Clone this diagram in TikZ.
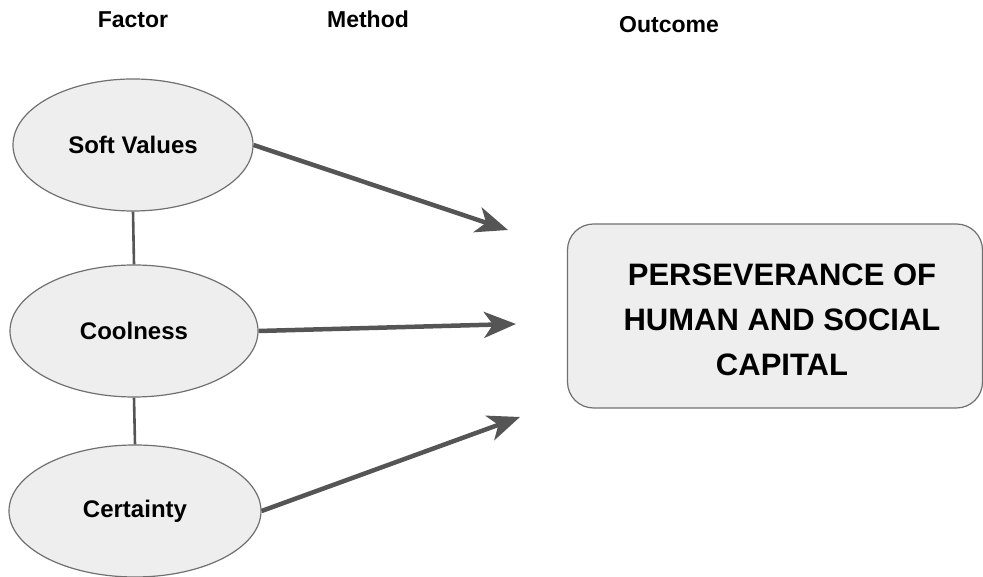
\documentclass[tikz,border=0pt]{standalone}
\usepackage{fontspec}
\setmainfont{Liberation Sans}
\usetikzlibrary{shapes.geometric,arrows.meta}
\definecolor{fillg}{HTML}{EEEEEE}
\definecolor{edgeg}{HTML}{707070}
\definecolor{arrg}{HTML}{555555}
\tikzset{
  factor/.style={ellipse, draw=edgeg, line width=1.2pt, fill=fillg, inner sep=0pt,
    font=\fontsize{24}{28}\selectfont\bfseries},
  outbox/.style={rectangle, rounded corners=26pt, draw=edgeg, line width=1.2pt, fill=fillg,
    inner sep=0pt, minimum width=415pt, minimum height=184pt},
  boxtext/.style={align=center, inner sep=0pt, font=\fontsize{31}{45}\selectfont\bfseries},
  header/.style={anchor=base, inner sep=0pt, font=\fontsize{23}{26}\selectfont\bfseries},
  link/.style={draw=arrg, line width=2.6pt},
  arr/.style={draw=arrg, line width=4.5pt, -{Stealth[length=32pt, width=26pt, inset=9pt]}}
}
\begin{document}
\begin{tikzpicture}[x=1pt,y=1pt]
\useasboundingbox (0,0) rectangle (983,577);
% headers
\node[header] (hf) at (133,549) {Factor};
\node[header] (hm) at (368,549) {Method};
\node[header] (ho) at (669,544) {Outcome};
% factors
\node[factor, minimum width=240pt, minimum height=132pt] (sv) at (133,432) {Soft Values};
\node[factor, minimum width=248pt, minimum height=132pt] (co) at (134,246) {Coolness};
\node[factor, minimum width=252pt, minimum height=132pt] (ce) at (135,66) {Certainty};
% outcome
\node[outbox, label={[boxtext, xshift=7pt, yshift=-4pt]center:{PERSEVERANCE OF\\HUMAN AND SOCIAL\\CAPITAL}}] (out) at (775,261) {};
% links
\draw[link] (sv.south) -- (co.north);
\draw[link] (co.south) -- (ce.north);
% arrow tips
\coordinate (t1) at (508,347);
\coordinate (t2) at (516,253);
\coordinate (t3) at (520,160);
\draw[arr] (sv.east) -- (t1);
\draw[arr] (co.east) -- (t2);
\draw[arr] (ce.east) -- (t3);
\end{tikzpicture}
\end{document}
